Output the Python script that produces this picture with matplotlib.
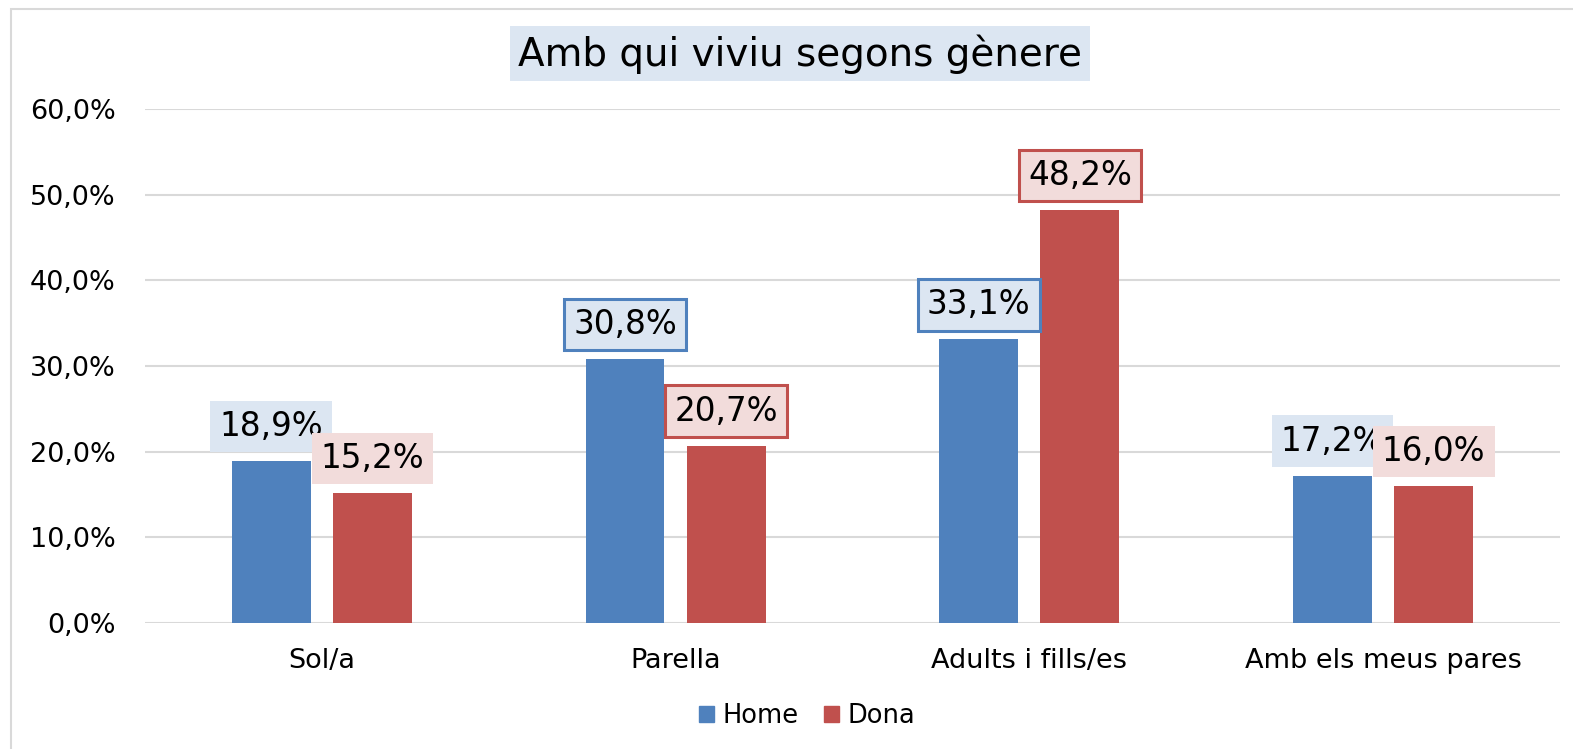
import numpy as np
import matplotlib as mpl
import matplotlib.pyplot as plt
from matplotlib.patches import Rectangle, Patch
from matplotlib.ticker import FuncFormatter

mpl.rcParams['font.family'] = ['DejaVu Sans']

# data
categories = ['Sol/a', 'Parella', 'Adults i fills/es', 'Amb els meus pares']
home = [18.9, 30.8, 33.1, 17.2]
dona = [15.2, 20.7, 48.2, 16.0]
home_boxed = [False, True, True, False]
dona_boxed = [False, True, True, False]
title = 'Amb qui viviu segons gènere'
y_ticks = [0, 10, 20, 30, 40, 50, 60]

blue = '#4F81BD'
red = '#C0504D'
blue_bg = '#DCE6F2'
red_bg = '#F2DCDB'
grid_col = '#D9D9D9'

fig = plt.figure(figsize=(15.73, 7.49), dpi=100)
ax = fig.add_axes([0.0922, 0.1682, 0.8995, 0.6863])

x = np.arange(len(categories))
offset = 0.143
width = 0.223

ax.bar(x - offset, home, width, color=blue, zorder=3)
ax.bar(x + offset, dona, width, color=red, zorder=3)


def pct(v):
    return f"{v:.1f}%".replace('.', ',')


def add_labels(xs, vals, boxed, fc, ec):
    for xi, v, b in zip(xs, vals, boxed):
        ax.annotate(pct(v), (xi, v), xytext=(0, 13), textcoords='offset points',
                    ha='center', va='bottom', fontsize=23.5, zorder=5,
                    bbox=dict(boxstyle='square,pad=0.28', fc=fc,
                              ec=ec if b else 'none', lw=2.2))


add_labels(x - offset, home, home_boxed, blue_bg, blue)
add_labels(x + offset, dona, dona_boxed, red_bg, red)

ax.set_xlim(-0.5, len(categories) - 0.5)
ax.set_ylim(0, 60)
ax.set_yticks(y_ticks)
ax.yaxis.set_major_formatter(FuncFormatter(lambda v, p: pct(v)))
ax.set_xticks(x, categories)
ax.tick_params(axis='y', length=0, pad=21, labelsize=19.5)
ax.tick_params(axis='x', length=0, pad=18, labelsize=19.5)
ax.grid(axis='y', color=grid_col, lw=1.5, zorder=0)
for s in ax.spines.values():
    s.set_visible(False)

fig.text(0.5086, 0.928, title, ha='center', va='center', fontsize=28,
         bbox=dict(boxstyle='square,pad=0.2', fc=blue_bg, ec='none'))

handles = [Patch(color=blue, label='Home'), Patch(color=red, label='Dona')]
fig.legend(handles=handles, loc='center', bbox_to_anchor=(0.513, 0.044), ncols=2,
           frameon=False, fontsize=18.5, handlelength=0.6, handleheight=0.6,
           handletextpad=0.3, columnspacing=1.0)

# outer chart border
fig.add_artist(Rectangle((11 / 1573, -0.1), 1.2, 1 - 9 / 749 + 0.1,
                         transform=fig.transFigure, fill=False, ec=grid_col, lw=1.5))

plt.savefig('out.png', dpi=100)
